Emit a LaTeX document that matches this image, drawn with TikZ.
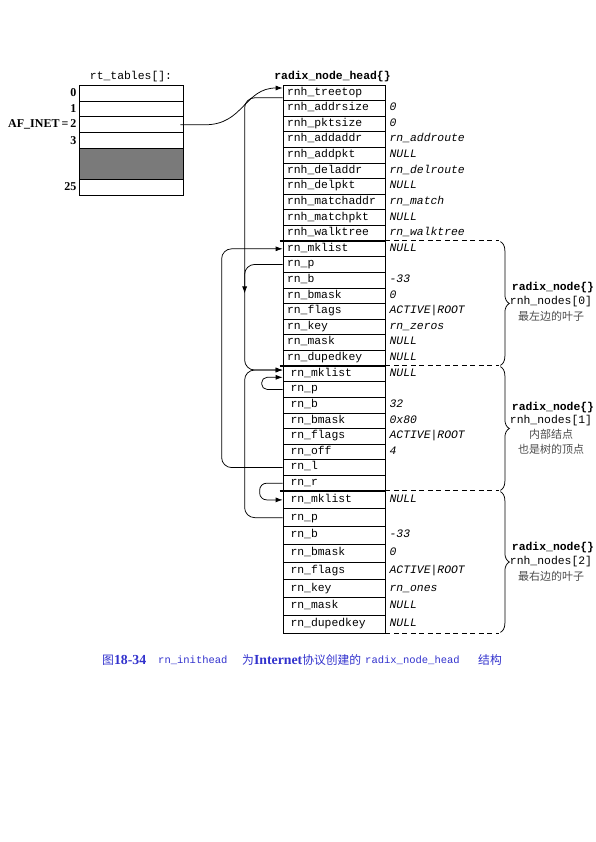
\documentclass[tikz,border=0pt]{standalone}
\usepackage{fontspec}
\setmainfont{Liberation Serif}
\setmonofont{Liberation Mono}
\newfontfamily\cjk{Noto Sans CJK SC}
\usetikzlibrary{arrows.meta,decorations.pathreplacing}
\newcommand\mymono{\ttfamily\fontsize{11.4}{13}\selectfont}
\newcommand\fldtxt[1]{\makebox[94pt][l]{#1}}
\newcommand\capcnf{\cjk\fontsize{11.8}{14}\selectfont}
\definecolor{capblue}{RGB}{50,50,205}
\tikzset{
  fld/.style={draw, line width=0.75pt, minimum width=102pt, minimum height=#1, inner sep=0pt,
    text height=7.4pt, text depth=2.6pt, font=\mymono},
  valtxt/.style={anchor=west, inner sep=0pt, text height=7.4pt, text depth=2.6pt, font=\mymono\itshape},
  rtrow/.style={draw, line width=0.75pt, minimum width=104pt, minimum height=#1, inner sep=0pt},
  numlbl/.style={anchor=east, inner sep=0pt, font=\fontsize{12}{14}\selectfont\bfseries},
  arr/.style={line width=0.75pt, -{Latex[length=7pt,width=5pt]}},
  thick sep/.style={line width=2pt},
  dashsep/.style={line width=0.75pt, dash pattern=on 5pt off 3.5pt},
  brc/.style={line width=0.75pt, decorate, decoration={brace, amplitude=9pt}},
  sidelbl/.style={inner sep=0pt, font=\mymono},
  sidecn/.style={inner sep=0pt, font=\cjk\fontsize{11}{13}\selectfont, text=black!70},
  capt/.style={anchor=west, inner sep=0pt, text=capblue, font=\fontsize{13.8}{15}\selectfont},
}
\begin{document}
\begin{tikzpicture}[x=1pt,y=-1pt]
\useasboundingbox (0,0) rectangle (595,842);

% ---- rt_tables ----
\node[font=\mymono, inner sep=0pt] (rtt) at (131,77) {rt\_tables[]:};
\node[rtrow=15.9pt] (rt0) at (131,92.95) {};
\node[rtrow=15.9pt] (rt1) at (131,108.85) {};
\node[rtrow=15.9pt] (rt2) at (131,124.75) {};
\node[rtrow=15.9pt] (rt3) at (131,140.65) {};
\node[rtrow=30.4pt, fill=black!52] (rtg) at (131,163.8) {};
\node[rtrow=16pt] (rt25) at (131,187) {};
\node[numlbl] (l0) at ([xshift=-2pt]rt0.west) {0};
\node[numlbl] (l1) at ([xshift=-2pt]rt1.west) {1};
\node[numlbl] (l2) at ([xshift=-2pt]rt2.west) {AF\_INET\,=\,2};
\node[numlbl] (l3) at ([xshift=-2pt]rt3.west) {3};
\node[numlbl] (l25) at ([xshift=-2pt]rt25.west) {25};

% ---- radix_node_head ----
\node[font=\mymono\bfseries, inner sep=0pt] (rnht) at (332.5,77) {radix\_node\_head\{\}};
\foreach \n/\v [count=\i] in {rnh\_treetop/{}, rnh\_addrsize/0, rnh\_pktsize/0,
   rnh\_addaddr/rn\_addroute, rnh\_addpkt/NULL, rnh\_deladdr/rn\_delroute,
   rnh\_delpkt/NULL, rnh\_matchaddr/rn\_match, rnh\_matchpkt/NULL,
   rnh\_walktree/rn\_walktree}{
  \node[fld=15.6pt] (h\i) at (334,{85+15.6*(\i-0.5)}) {\fldtxt{\n}};
  \node[valtxt] (hv\i) at ([xshift=4pt]h\i.east) {\v};
}
% ---- rnh_nodes[0] ----
\foreach \n/\v [count=\i] in {rn\_mklist/NULL, rn\_p/{}, rn\_b/-33, rn\_bmask/0,
   rn\_flags/ACTIVE|ROOT, rn\_key/rn\_zeros, rn\_mask/NULL, rn\_dupedkey/NULL}{
  \node[fld=15.625pt] (a\i) at (334,{241+15.625*(\i-0.5)}) {\fldtxt{\n}};
  \node[valtxt] (av\i) at ([xshift=4pt]a\i.east) {\v};
}
% ---- rnh_nodes[1] ----
\foreach \n/\v [count=\i] in {rn\_mklist/NULL, rn\_p/{}, rn\_b/32, rn\_bmask/0x80,
   rn\_flags/ACTIVE|ROOT, rn\_off/4, rn\_l/{}, rn\_r/{}}{
  \node[fld=15.625pt] (b\i) at (334,{366+15.625*(\i-0.5)}) {\fldtxt{\hspace{3.5pt}\n}};
  \node[valtxt] (bv\i) at ([xshift=4pt]b\i.east) {\v};
}
% ---- rnh_nodes[2] ----
\foreach \n/\v [count=\i] in {rn\_mklist/NULL, rn\_p/{}, rn\_b/-33, rn\_bmask/0,
   rn\_flags/ACTIVE|ROOT, rn\_key/rn\_ones, rn\_mask/NULL, rn\_dupedkey/NULL}{
  \node[fld=17.75pt] (c\i) at (334,{491+17.75*(\i-0.5)}) {\fldtxt{\hspace{3.5pt}\n}};
  \node[valtxt] (cv\i) at ([xshift=4pt]c\i.east) {\v};
}

% ---- separators, dashes, braces ----
\foreach \r in {a1,b1,c1}{
  \draw[thick sep] ([xshift=-3pt]\r.north west) -- (\r.north east);
  \draw[dashsep] (\r.north east) -- ++(114,0);
}
\draw[dashsep] (c8.south east) -- ++(114,0);
\draw[brc] ([xshift=115pt,yshift=-1pt]a1.north east) -- ([xshift=115pt,yshift=1pt]a8.south east);
\draw[brc] ([xshift=115pt,yshift=-1pt]b1.north east) -- ([xshift=115pt,yshift=1pt]b8.south east);
\draw[brc] ([xshift=115pt,yshift=-1pt]c1.north east) -- ([xshift=115pt,yshift=1pt]c8.south east);

% ---- side labels ----
\node[sidelbl, font=\mymono\bfseries] (s0a) at (553,288) {radix\_node\{\}};
\node[sidelbl] (s0b) at (551,302) {rnh\_nodes[0]};
\node[sidecn] (s0c) at (551,316) {最左边的叶子};
\node[sidelbl, font=\mymono\bfseries] (s1a) at (553,408) {radix\_node\{\}};
\node[sidelbl] (s1b) at (551,421) {rnh\_nodes[1]};
\node[sidecn] (s1c) at (551,434) {内部结点};
\node[sidecn] (s1d) at (551,449) {也是树的顶点};
\node[sidelbl, font=\mymono\bfseries] (s2a) at (553,548) {radix\_node\{\}};
\node[sidelbl] (s2b) at (551,562) {rnh\_nodes[2]};
\node[sidecn] (s2c) at (551,576) {最右边的叶子};

% ---- connectors ----
\draw[arr] ([xshift=-3pt]rt2.east) -- ++(25,0)
   .. controls +(38,0) and +(-38,0) .. ([yshift=4.8pt]h1.west);
\draw[arr, rounded corners=10pt] ([yshift=-5pt]h1.west) -- ++(-38,0) |- ([yshift=3.8pt]b1.west);
\draw[arr, rounded corners=10pt] (a2.west) -- ++(-38,0) -- ++(0,29);
\draw[arr, rounded corners=10pt] (b7.west) -- ++(-61,0) |- (a1.west);
\draw[arr, rounded corners=10pt] (c2.west) -- ++(-38,0) |- ([yshift=3.8pt]b1.west);
\draw[arr, rounded corners=5.5pt] (b2.west) -- ++(-21,0) |- ([yshift=-3.5pt]b1.west);
\draw[arr, rounded corners=7pt] (b8.west) -- ++(-23,0) |- (c1.west);

% ---- caption ----
\node[capt] (cap1) at (102,660) {{\capcnf 图}\textbf{18-34}};
\node[capt, font=\ttfamily\fontsize{10.5}{12}\selectfont] (cap2) at (158,660) {rn\_inithead};
\node[capt] (cap3) at (242,660) {{\capcnf 为}\textbf{Internet}{\capcnf 协议创建的}};
\node[capt, font=\ttfamily\fontsize{10.5}{12}\selectfont] (cap4) at (365,660) {radix\_node\_head};
\node[capt] (cap5) at (478,660) {{\capcnf 结构}};
\end{tikzpicture}
\end{document}
